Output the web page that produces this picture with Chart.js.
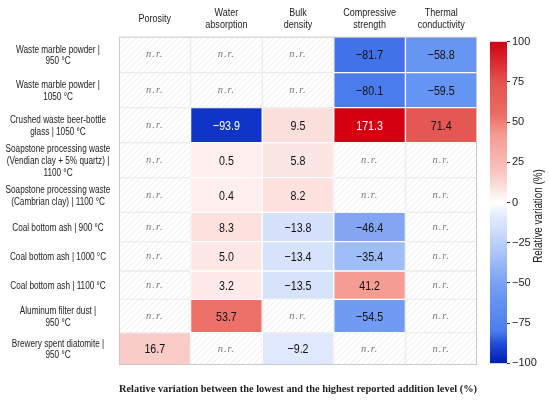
<!DOCTYPE html>
<html lang="en">
<head>
<meta charset="UTF-8">
<title>Relative variation heatmap</title>
<script src="https://cdn.jsdelivr.net/npm/chart.js"></script>
<style>
  html, body { margin: 0; padding: 0; background: #fff; }
  #wrap { position: relative; width: 550px; height: 401px; }
  #heat { position: absolute; left: 0; top: 0; }
  #cbar { position: absolute; left: 480px; top: 0; }
</style>
</head>
<body>
<div id="wrap">
  <canvas id="heat" width="550" height="401"></canvas>
  <canvas id="cbar" width="70" height="401"></canvas>
</div>
<script>
// column headers (properties)
const properties = [["Porosity"], ["Water", "absorption"], ["Bulk", "density"],
  ["Compressive", "strength"], ["Thermal", "conductivity"]];

// row labels (residue | firing temperature)
const residues = [
  ["Waste marble powder |", "950 °C"],
  ["Waste marble powder |", "1050 °C"],
  ["Crushed waste beer-bottle", "glass | 1050 °C"],
  ["Soapstone processing waste", "(Vendian clay + 5% quartz) |", "1100 °C"],
  ["Soapstone processing waste", "(Cambrian clay) | 1100 °C"],
  ["Coal bottom ash | 900 °C"],
  ["Coal bottom ash | 1000 °C"],
  ["Coal bottom ash | 1100 °C"],
  ["Aluminum filter dust |", "950 °C"],
  ["Brewery spent diatomite |", "950 °C"]
];

// relative variation (%) per property, same order as residues; null = n.r.
const porosity = [null, null, null, null, null, null, null, null, null, 16.7];
const waterAbsorption = [null, null, -93.9, 0.5, 0.4, 8.3, 5.0, 3.2, 53.7, null];
const bulkDensity = [null, null, 9.5, 5.8, 8.2, -13.8, -13.4, -13.5, null, -9.2];
const compressiveStrength = [-81.7, -80.1, 171.3, null, null, -46.4, -35.4, 41.2, -54.5, null];
const thermalConductivity = [-58.8, -59.5, 71.4, null, null, null, null, null, null, null];

const colorbarTicks = [-100, -75, -50, -25, 0, 25, 50, 75, 100];
const colorbarTitle = "Relative variation (%)";
const caption = "Relative variation between the lowest and the highest reported addition level (%)";

const columns = [porosity, waterAbsorption, bulkDensity, compressiveStrength, thermalConductivity];

// row heights follow the label line count in the original
const rowSpan = [36, 35, 35, 35, 34.6, 29.4, 29.3, 28.3, 33.4, 32.3];
const edges = [0];
rowSpan.forEach(h => edges.push(edges[edges.length - 1] + h));
const mids = rowSpan.map((h, i) => edges[i] + h / 2);

const SANS = "'Liberation Sans', Arial, sans-serif";
const SERIF = "'Liberation Serif', 'DejaVu Serif', serif";
const NARROW = 0.82; // squeeze Liberation Sans to an Arial Narrow look

// diverging colour map
const posStops = [[0, [254, 240, 239]], [10, [251, 222, 219]], [20, [250, 195, 190]], [42, [245, 155, 145]],
  [55, [236, 108, 100]], [75, [228, 82, 78]], [100, [212, 0, 18]]];
const negStops = [[0, [236, 241, 253]], [10, [222, 231, 252]], [15, [212, 225, 251]], [35, [160, 190, 246]],
  [47, [130, 165, 242]], [60, [100, 148, 242]], [80, [75, 125, 235]], [88, [30, 75, 215]], [100, [0, 28, 180]]];

function lerpStops(stops, a) {
  for (let i = 1; i < stops.length; i++) {
    if (a <= stops[i][0]) {
      const [a0, c0] = stops[i - 1], [a1, c1] = stops[i];
      const t = (a - a0) / (a1 - a0);
      return c0.map((v, k) => Math.round(v + (c1[k] - v) * t));
    }
  }
  return stops[stops.length - 1][1];
}
function colorFor(v) {
  const a = Math.min(Math.abs(v), 100);
  const c = v >= 0 ? lerpStops(posStops, a) : lerpStops(negStops, a);
  return `rgb(${c[0]},${c[1]},${c[2]})`;
}
const fmt = (v, d) => (v < 0 ? "\u2212" : "") + Math.abs(v).toFixed(d);

function narrowText(ctx, text, x, y, rot) {
  ctx.save();
  ctx.translate(x, y);
  if (rot) ctx.rotate(rot);
  ctx.scale(NARROW, 1);
  ctx.fillText(text, 0, 0);
  ctx.restore();
}

// light diagonal hatching for n.r. cells
const pc = document.createElement("canvas");
pc.width = 6; pc.height = 6;
const px = pc.getContext("2d");
px.fillStyle = "#fff"; px.fillRect(0, 0, 6, 6);
px.strokeStyle = "#e9e9e9"; px.lineWidth = 0.8;
px.beginPath();
px.moveTo(-1, 7); px.lineTo(7, -1);
px.moveTo(-1, 1); px.lineTo(1, -1);
px.moveTo(5, 7); px.lineTo(7, 5);
px.stroke();
const hatch = px.createPattern(pc, "repeat");

const cellText = {
  id: "cellText",
  afterDatasetsDraw(chart) {
    const ctx = chart.ctx;
    const { x: xs, y: ys } = chart.scales;
    ctx.save();
    ctx.textAlign = "center";
    ctx.textBaseline = "middle";
    // values inside the cells
    chart.data.datasets.forEach((ds, r) => {
      chart.getDatasetMeta(r).data.forEach((bar, c) => {
        const v = columns[c][r];
        const p = bar.getCenterPoint();
        if (v == null) {
          ctx.font = "italic 10.5px " + SERIF;
          ctx.fillStyle = "#7a7a7a";
          ctx.letterSpacing = "1px";
          ctx.fillText("n.r.", p.x, p.y);
          ctx.letterSpacing = "0px";
        } else {
          ctx.font = "13px " + SANS;
          ctx.fillStyle = Math.abs(v) > 85 ? "#fff" : "#111";
          narrowText(ctx, fmt(v, 1), p.x, p.y + 1);
        }
      });
    });
    // frame
    const a = chart.chartArea;
    ctx.strokeStyle = "#c9c9c9";
    ctx.lineWidth = 1;
    ctx.strokeRect(a.left + 0.5, a.top + 0.5, a.right - a.left - 1, a.bottom - a.top - 1);
    // column headers
    ctx.fillStyle = "#222";
    ctx.font = "11px " + SANS;
    properties.forEach((lines, i) => {
      const x = xs.getPixelForValue(i);
      const y0 = 19 - (lines.length - 1) * 6;
      lines.forEach((t, k) => narrowText(ctx, t, x, y0 + k * 12));
    });
    // row labels
    ctx.font = "10px " + SANS;
    residues.forEach((lines, i) => {
      const y = ys.getPixelForValue(mids[i]) + 1;
      const y0 = y - (lines.length - 1) * 11.7 / 2;
      lines.forEach((t, k) => narrowText(ctx, t, 58, y0 + k * 11.7));
    });
    ctx.restore();
  }
};

new Chart(document.getElementById("heat"), {
  type: "bar",
  data: {
    labels: properties.map(p => p.join(" ")),
    datasets: residues.map((name, r) => ({
      label: name.join(" "),
      data: columns.map(() => [edges[r], edges[r + 1]]),
      grouped: false,
      barPercentage: 1,
      categoryPercentage: 1,
      borderSkipped: false,
      borderWidth: 1,
      borderColor: ctx => columns[ctx.dataIndex][r] == null ? "#ededed" : "#fff",
      backgroundColor: ctx => {
        const v = columns[ctx.dataIndex][r];
        return v == null ? hatch : colorFor(v);
      }
    }))
  },
  options: {
    responsive: false,
    animation: false,
    layout: { padding: { left: 0, right: 73, top: 0, bottom: 0 } },
    plugins: { legend: { display: false }, tooltip: { enabled: false } },
    scales: {
      x: {
        type: "category",
        position: "top",
        grid: { display: false },
        border: { display: false },
        ticks: { display: false },
        afterFit: s => { s.height = 36.7; }
      },
      x2: {
        type: "category",
        position: "bottom",
        labels: properties.map(p => p.join(" ")),
        grid: { display: false },
        border: { display: false },
        ticks: { display: false },
        title: { display: true, text: caption, color: "#222",
                 font: { family: SERIF, size: 10.5, weight: "bold" }, padding: { top: 0, bottom: 5 } },
        afterFit: s => { s.height = 36; }
      },
      y: {
        type: "linear",
        position: "left",
        reverse: true,
        min: 0,
        max: edges[edges.length - 1],
        grid: { display: false },
        border: { display: false },
        ticks: { display: false },
        afterFit: s => { s.width = 119; }
      }
    }
  },
  plugins: [cellText]
});

// colour bar
function barGradient(chart) {
  const a = chart.chartArea;
  if (!a) return "#fff";
  const g = chart.ctx.createLinearGradient(0, a.bottom, 0, a.top);
  negStops.slice().reverse().forEach(([s, c]) => {
    if (s > 0) g.addColorStop((100 - s) / 200, `rgb(${c})`);
  });
  g.addColorStop(0.5, "#fff");
  posStops.forEach(([s, c]) => {
    if (s > 0) g.addColorStop((100 + s) / 200, `rgb(${c})`);
  });
  return g;
}

const barTitle = {
  id: "barTitle",
  afterDraw(chart) {
    const ctx = chart.ctx;
    ctx.save();
    ctx.fillStyle = "#222";
    ctx.font = "12px " + SANS;
    ctx.textAlign = "center";
    ctx.textBaseline = "middle";
    narrowText(ctx, colorbarTitle, 58.5, 216, -Math.PI / 2);
    ctx.restore();
  }
};

new Chart(document.getElementById("cbar"), {
  type: "bar",
  data: { labels: [""], datasets: [{ data: [[-100, 100]], barPercentage: 1, categoryPercentage: 1,
    borderWidth: 0, backgroundColor: c => barGradient(c.chart) }] },
  options: {
    responsive: false,
    animation: false,
    layout: { padding: { left: 10, right: 0, top: 41.7, bottom: 37.7 } },
    plugins: { legend: { display: false }, tooltip: { enabled: false } },
    scales: {
      x: { display: false },
      y: {
        position: "right",
        min: -100,
        max: 100,
        afterBuildTicks: s => { s.ticks = colorbarTicks.map(v => ({ value: v })); },
        grid: { drawOnChartArea: false, drawTicks: true, tickLength: 3, tickColor: "#333" },
        border: { display: false },
        ticks: { font: { family: SANS, size: 11 }, color: "#222", padding: 2, callback: v => fmt(v, 0) },
        afterFit: s => { s.width = 43; }
      }
    }
  },
  plugins: [barTitle]
});
</script>
</body>
</html>
